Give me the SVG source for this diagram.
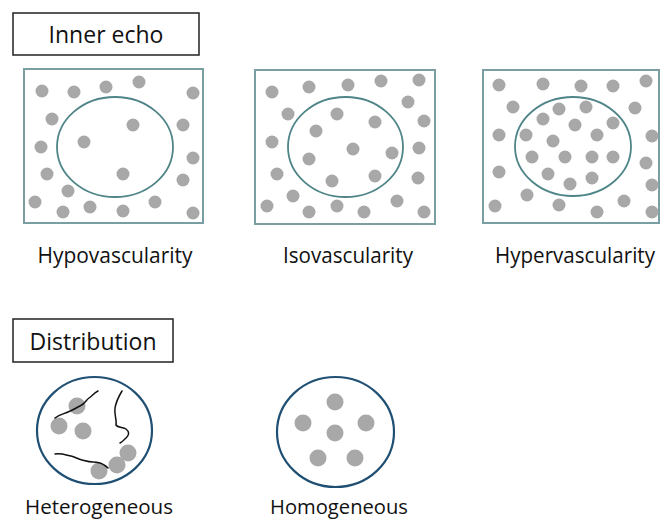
<svg xmlns="http://www.w3.org/2000/svg" width="662" height="523" viewBox="0 0 662 523">
<style>
.hdr{fill:#fff;stroke:#222;stroke-width:1.5}
.box{fill:#fff;stroke:#7b9ea3;stroke-width:2}
.ell{fill:none;stroke:#4f8588;stroke-width:1.8}
.circ{fill:#fff;stroke:#1f4f73;stroke-width:2.2}
.d{fill:#a8a8a8}
.t{font-family:"Open Sans","Liberation Sans",sans-serif;fill:#111;text-anchor:middle}
.vein{fill:none;stroke:#111;stroke-width:1.5;stroke-linecap:round}
</style>
<rect width="662" height="523" fill="#fff"/>
<g id="hdr-inner">
<rect class="hdr" x="13" y="13" width="186" height="42"/>
<text class="t" x="106" y="43" font-size="23">Inner echo</text>
</g>
<g id="hypo">
<rect class="box" x="24" y="69" width="179" height="154"/>
<ellipse class="ell" cx="115" cy="147" rx="58" ry="50"/>
<g class="d">
<circle cx="42" cy="91" r="6.5"/><circle cx="74" cy="92" r="6.5"/><circle cx="106" cy="87" r="6.5"/><circle cx="139" cy="82" r="6.5"/><circle cx="193" cy="93" r="6.5"/>
<circle cx="52" cy="119" r="6.5"/><circle cx="133" cy="125" r="6.5"/><circle cx="183" cy="125" r="6.5"/><circle cx="41" cy="147" r="6.5"/><circle cx="84" cy="142" r="6.5"/>
<circle cx="193" cy="158" r="6.5"/><circle cx="47" cy="174" r="6.5"/><circle cx="123" cy="174" r="6.5"/><circle cx="183" cy="180" r="6.5"/><circle cx="68" cy="191" r="6.5"/>
<circle cx="35" cy="202" r="6.5"/><circle cx="155" cy="202" r="6.5"/><circle cx="63" cy="212" r="6.5"/><circle cx="90" cy="207" r="6.5"/><circle cx="123" cy="211" r="6.5"/><circle cx="193" cy="213" r="6.5"/>
</g>
<text class="t" x="115" y="263" font-size="21" textLength="155" lengthAdjust="spacingAndGlyphs">Hypovascularity</text>
</g>
<g id="iso">
<rect class="box" x="255" y="70" width="180" height="154"/>
<ellipse class="ell" cx="345.5" cy="147" rx="57.5" ry="50"/>
<g class="d">
<circle cx="272" cy="92" r="6.5"/><circle cx="309" cy="87" r="6.5"/><circle cx="348" cy="85" r="6.5"/><circle cx="381" cy="81" r="6.5"/><circle cx="419" cy="80" r="6.5"/>
<circle cx="408" cy="102" r="6.5"/><circle cx="288" cy="114" r="6.5"/><circle cx="337" cy="114" r="6.5"/><circle cx="375" cy="122" r="6.5"/><circle cx="424" cy="121" r="6.5"/>
<circle cx="316" cy="131" r="6.5"/><circle cx="272" cy="142" r="6.5"/><circle cx="353" cy="149" r="6.5"/><circle cx="392" cy="153" r="6.5"/><circle cx="419" cy="148" r="6.5"/>
<circle cx="309" cy="159" r="6.5"/><circle cx="277" cy="174" r="6.5"/><circle cx="375" cy="176" r="6.5"/><circle cx="332" cy="181" r="6.5"/><circle cx="418" cy="178" r="6.5"/>
<circle cx="293" cy="196" r="6.5"/><circle cx="397" cy="201" r="6.5"/><circle cx="267" cy="206" r="6.5"/><circle cx="337" cy="206" r="6.5"/><circle cx="309" cy="212" r="6.5"/><circle cx="364" cy="212" r="6.5"/><circle cx="424" cy="212" r="6.5"/>
</g>
<text class="t" x="348" y="263" font-size="21" textLength="130" lengthAdjust="spacingAndGlyphs">Isovascularity</text>
</g>
<g id="hyper">
<rect class="box" x="483" y="70" width="176" height="153"/>
<ellipse class="ell" cx="573" cy="146.5" rx="58" ry="49.5"/>
<g class="d">
<circle cx="499" cy="85" r="6.5"/><circle cx="543" cy="84" r="6.5"/><circle cx="581" cy="86" r="6.5"/><circle cx="613" cy="86" r="6.5"/><circle cx="646" cy="81" r="6.5"/>
<circle cx="513" cy="107" r="6.5"/><circle cx="559" cy="109" r="6.5"/><circle cx="586" cy="107" r="6.5"/><circle cx="635" cy="108" r="6.5"/>
<circle cx="543" cy="119" r="6.5"/><circle cx="575" cy="125" r="6.5"/><circle cx="613" cy="123" r="6.5"/>
<circle cx="499" cy="135" r="6.5"/><circle cx="526" cy="135" r="6.5"/><circle cx="597" cy="135" r="6.5"/><circle cx="652" cy="136" r="6.5"/><circle cx="553" cy="141" r="6.5"/>
<circle cx="532" cy="157" r="6.5"/><circle cx="565" cy="157" r="6.5"/><circle cx="592" cy="157" r="6.5"/><circle cx="613" cy="157" r="6.5"/><circle cx="646" cy="163" r="6.5"/>
<circle cx="499" cy="172" r="6.5"/><circle cx="548" cy="174" r="6.5"/><circle cx="592" cy="178" r="6.5"/><circle cx="570" cy="184" r="6.5"/><circle cx="652" cy="185" r="6.5"/>
<circle cx="527" cy="195" r="6.5"/><circle cx="624" cy="201" r="6.5"/><circle cx="495" cy="206" r="6.5"/><circle cx="559" cy="205" r="6.5"/><circle cx="597" cy="212" r="6.5"/><circle cx="652" cy="212" r="6.5"/>
</g>
<text class="t" x="575" y="263" font-size="21" textLength="160" lengthAdjust="spacingAndGlyphs">Hypervascularity</text>
</g>
<g id="hdr-dist">
<rect class="hdr" x="13" y="319" width="160" height="43"/>
<text class="t" x="93" y="350" font-size="23">Distribution</text>
</g>
<g id="hetero">
<ellipse class="circ" cx="94.5" cy="430.5" rx="57.5" ry="53.5"/>
<g class="d">
<circle cx="77" cy="406" r="8.5"/><circle cx="59" cy="426" r="8.5"/><circle cx="83" cy="431" r="8.5"/>
<circle cx="128" cy="453" r="8.5"/><circle cx="117" cy="465" r="8.5"/><circle cx="99" cy="471" r="8.5"/>
</g>
<path class="vein" d="M55,418 C60,414 64,414 68,412 C73,410 76,408 80,406 C85,404 86,400 89,398 C92,396 94,393 98,391"/>
<path class="vein" d="M122,391 C119,396 116,402 115,408 C114,414 117,420 116,425 C118,428 123,427 126,429 C130,432 129,435 126,438 C124,440 122,442 120,443"/>
<path class="vein" d="M55,454 C61,453 66,455 71,456 C75,457 78,459 82,460 C86,461 89,462 93,462 C98,462 101,463 104,465 C106,466 107,467 108,468"/>
<text class="t" x="99" y="514" font-size="20" textLength="148" lengthAdjust="spacingAndGlyphs">Heterogeneous</text>
</g>
<g id="homo">
<ellipse class="circ" cx="335.5" cy="432" rx="58.5" ry="55"/>
<g class="d">
<circle cx="335" cy="402" r="8.5"/><circle cx="303" cy="423" r="8.5"/><circle cx="366" cy="423" r="8.5"/>
<circle cx="335" cy="433" r="8.5"/><circle cx="318" cy="458" r="8.5"/><circle cx="355" cy="458" r="8.5"/>
</g>
<text class="t" x="339" y="514" font-size="20" textLength="138" lengthAdjust="spacingAndGlyphs">Homogeneous</text>
</g>
<g id="connectors"/>
</svg>
